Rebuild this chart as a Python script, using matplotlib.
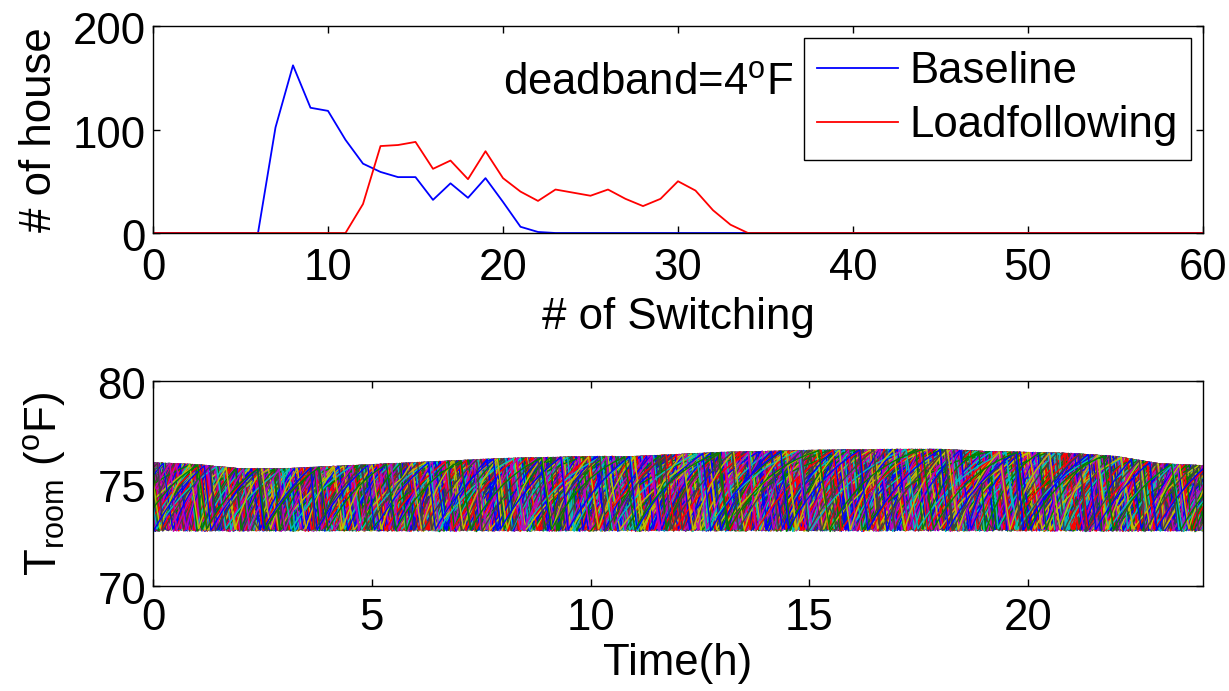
import numpy as np
import matplotlib
matplotlib.use("Agg")
import matplotlib.pyplot as plt
from matplotlib.transforms import ScaledTranslation

plt.rcParams['font.family'] = ['Liberation Sans', 'DejaVu Sans']
plt.rcParams['mathtext.fontset'] = 'custom'
plt.rcParams['mathtext.rm'] = 'Liberation Sans'
plt.rcParams['mathtext.it'] = 'Liberation Sans:italic'
plt.rcParams['mathtext.bf'] = 'Liberation Sans:bold'

# ---------------- Data (top panel: histogram of switching counts) -------------
switch_count = list(range(0, 61))
baseline_nonzero = {6: 0, 7: 102, 8: 162, 9: 121, 10: 118, 11: 90, 12: 67, 13: 59,
                    14: 54, 15: 54, 16: 32, 17: 48, 18: 34, 19: 53, 20: 30,
                    21: 6, 22: 1}
loadfollow_nonzero = {11: 0, 12: 28, 13: 84, 14: 85, 15: 88, 16: 62, 17: 70,
                      18: 52, 19: 79, 20: 53, 21: 40, 22: 31, 23: 42, 24: 39,
                      25: 36, 26: 42, 27: 33, 28: 26, 29: 33, 30: 50, 31: 41,
                      32: 22, 33: 8, 34: 0}
baseline_houses = [baseline_nonzero.get(s, 0) for s in switch_count]
loadfollow_houses = [loadfollow_nonzero.get(s, 0) for s in switch_count]

# ---------------- Data (bottom panel: room temperature band) ------------------
band_time = [0, 1, 2, 3, 4, 5, 6, 8, 10, 11, 13, 15, 17, 18, 19, 21, 22, 23, 24]
band_upper = [76.0, 75.9, 75.7, 75.7, 75.8, 75.9, 76.0, 76.2, 76.3, 76.3, 76.5,
              76.6, 76.65, 76.65, 76.55, 76.45, 76.3, 75.95, 75.85]
band_lower = 72.8
n_houses = 380

matlab_colors = ['#0000FF', '#008000', '#FF0000', '#00BFBF', '#BF00BF',
                 '#BFBF00', '#404040']

# ---------------- Thermostat traces (deterministic model) ---------------------
dt = 1 / 180
hours = np.arange(0, 24 + 1e-9, dt)
upper = np.interp(hours, band_time, band_upper)
k = np.arange(n_houses)
u1 = (k * 0.6180339887) % 1
u2 = (k * 0.7548776662 + 0.3) % 1
u3 = (k * 0.5698402910 + 0.1) % 1
tau = 0.6 + 1.4 * u2
t_amb = 77.2 + 2.8 * u3
cool_rate = 14 + 16 * u1
T = np.empty((len(hours), n_houses))
T[0] = band_lower + (upper[0] - band_lower) * ((u1 + u3) % 1)
on = (k % 2 == 0)
for i in range(1, len(hours)):
    prev = T[i - 1]
    new = prev + (t_amb - prev) * (1 - np.exp(-dt / tau)) - on * cool_rate * dt
    on = np.where(new >= upper[i], True, np.where(new <= band_lower, False, on))
    T[i] = new

# ---------------- Figure -------------------------------------------------------
fig = plt.figure(figsize=(12.29, 6.91), dpi=100)
fs = 31.5
W, H = 1229, 691
L, R = 153, 1203

ax1 = fig.add_axes([L / W, 1 - 233 / H, (R - L) / W, (233 - 26) / H])
ax1.plot(switch_count, baseline_houses, color='#0000FF', lw=1.3, label='Baseline')
ax1.plot(switch_count, loadfollow_houses, color='#FF0000', lw=1.3, label='Loadfollowing')
ax1.set_xlim(0, 60)
ax1.set_ylim(0, 200)
ax1.set_xticks([0, 10, 20, 30, 40, 50, 60])
ax1.set_yticks([0, 100, 200])
ax1.set_xlabel('# of Switching', fontsize=fs, va='baseline')
ax1.set_ylabel('# of house', fontsize=fs)
ax1.xaxis.set_label_coords(0.5, (233 - 329) / 207)
ax1.yaxis.set_label_coords(-0.089, 0.5)
ax1.text(20.0, 134, 'deadband=4$^{\\mathrm{o}}$F', fontsize=fs, va='baseline', ha='left')
leg = ax1.legend(loc='upper right', fontsize=fs, frameon=True, fancybox=False,
                 edgecolor='black', framealpha=1, handlelength=1.85,
                 borderaxespad=0.28, borderpad=0.3, labelspacing=0.3,
                 handletextpad=0.25)
leg.get_frame().set_linewidth(1.0)

ax2 = fig.add_axes([L / W, 1 - 586 / H, (R - L) / W, (586 - 381) / H])
for j in range(n_houses):
    ax2.plot(hours, T[:, j], color=matlab_colors[j % 7], lw=1.0)
ax2.set_xlim(0, 24)
ax2.set_ylim(70, 80)
ax2.set_xticks([0, 5, 10, 15, 20])
ax2.set_yticks([70, 75, 80])
ax2.set_xlabel('Time(h)', fontsize=fs, va='baseline')
ax2.set_ylabel('T$_{\\mathrm{room}}$ ($^{\\mathrm{o}}$F)', fontsize=fs)
ax2.xaxis.set_label_coords(0.5, (586 - 675) / 205)
ax2.yaxis.set_label_coords(-0.081, 0.5)

for ax, xpad in ((ax1, 11), (ax2, 9)):
    ax.tick_params(direction='in', top=True, right=True, length=5, width=1,
                   labelsize=fs)
    ax.tick_params(axis='y', pad=5)
    ax.tick_params(axis='x', pad=xpad)
    for sp in ax.spines.values():
        sp.set_linewidth(1.0)
    off = ScaledTranslation(0, -1.5 / 72, fig.dpi_scale_trans)
    for lab in ax.get_yticklabels():
        lab.set_transform(lab.get_transform() + off)

fig.savefig('out.png', dpi=100)
